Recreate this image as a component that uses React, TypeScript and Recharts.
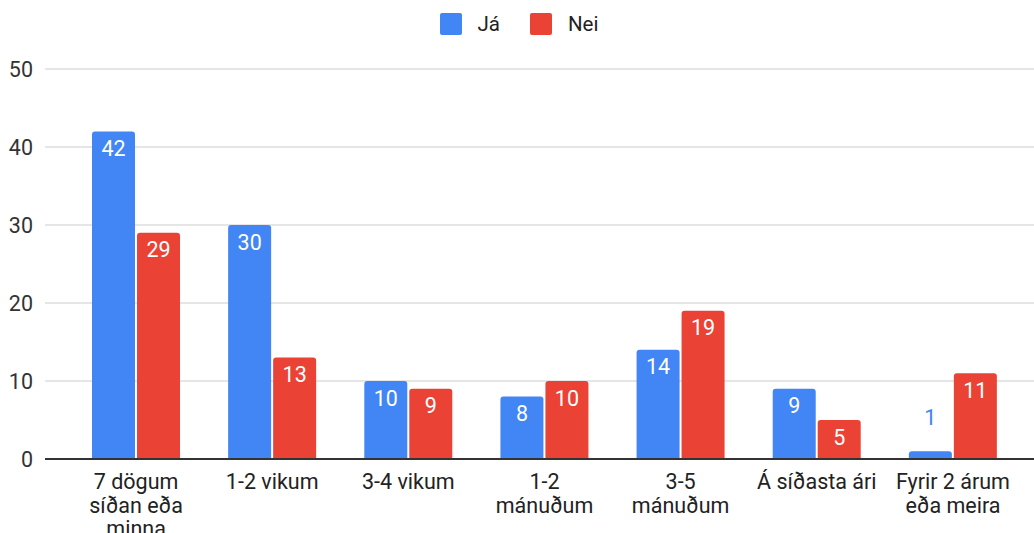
import React from 'react';
import { BarChart, Bar, XAxis, YAxis, CartesianGrid, LabelList } from 'recharts';

const categories = [
  '7 dögum\nsíðan eða\nminna',
  '1-2 vikum',
  '3-4 vikum',
  '1-2\nmánuðum',
  '3-5\nmánuðum',
  'Á síðasta ári',
  'Fyrir 2 árum\neða meira',
];
const jaValues = [42, 30, 10, 8, 14, 9, 1];
const neiValues = [29, 13, 9, 10, 19, 5, 11];
const yTicks = [0, 10, 20, 30, 40, 50];

const BLUE = '#4285f4';
const RED = '#ea4335';
const FONT = 'Roboto, Arial, sans-serif';

const data = categories.map((name, i) => ({ name, ja: jaValues[i], nei: neiValues[i] }));

const CategoryTick = ({ x, y, payload }: any) => {
  const lines = String(payload.value).split('\n');
  return (
    <text x={x} y={y} textAnchor="middle" fill="#222" fontSize={21.5} fontFamily={FONT}>
      {lines.map((line, i) => (
        <tspan key={i} x={x} dy={i === 0 ? 30 : 23.5}>
          {line}
        </tspan>
      ))}
    </text>
  );
};

// labels sit inside the top of the bar, or above it in the bar colour when the bar is too short
const makeLabel = (color: string) => (props: any) => {
  const { x, y, width, height, value } = props;
  const inside = height > 30;
  return (
    <text
      x={x + width / 2}
      y={inside ? y + 17 : y - 34}
      textAnchor="middle"
      dominantBaseline="central"
      fill={inside ? '#fff' : color}
      fontSize={21.5}
      fontFamily={FONT}
    >
      {value}
    </text>
  );
};

const LegendItem = ({ color, label, gap }: { color: string; label: string; gap: number }) => (
  <div style={{ display: 'flex', alignItems: 'center', marginRight: gap }}>
    <div style={{ width: 22, height: 22, background: color, borderRadius: 2, marginRight: 16 }} />
    <span style={{ fontSize: 20.5, color: '#222', fontFamily: FONT }}>{label}</span>
  </div>
);

export default function App() {
  return (
    <div style={{ position: 'absolute', left: 0, top: 0, width: 1034, height: 533, background: '#fff' }}>
      <div
        style={{
          position: 'absolute',
          top: 12,
          left: 2,
          width: 1034,
          display: 'flex',
          justifyContent: 'center',
        }}
      >
        <LegendItem color={BLUE} label="Já" gap={30} />
        <LegendItem color={RED} label="Nei" gap={0} />
      </div>
      <BarChart
        width={1034}
        height={533}
        data={data}
        margin={{ top: 69, right: 0, bottom: 0, left: 0 }}
        barSize={43}
        barGap={2}
      >
        <CartesianGrid vertical={false} stroke="#cccccc" />
        <XAxis
          dataKey="name"
          height={74}
          padding={{ left: 23, right: 13 }}
          tickLine={false}
          tickSize={0}
          tickMargin={0}
          axisLine={{ stroke: '#333', strokeWidth: 2 }}
          tick={<CategoryTick />}
          interval={0}
        />
        <YAxis
          width={45}
          domain={[0, 50]}
          ticks={yTicks}
          axisLine={false}
          tickLine={false}
          tickSize={0}
          tickMargin={12}
          tick={{ fill: '#333', fontSize: 21.5, fontFamily: FONT }}
        />
        <Bar dataKey="ja" fill={BLUE} radius={[3, 3, 0, 0]} isAnimationActive={false}>
          <LabelList dataKey="ja" content={makeLabel(BLUE)} />
        </Bar>
        <Bar dataKey="nei" fill={RED} radius={[3, 3, 0, 0]} isAnimationActive={false}>
          <LabelList dataKey="nei" content={makeLabel(RED)} />
        </Bar>
      </BarChart>
    </div>
  );
}
